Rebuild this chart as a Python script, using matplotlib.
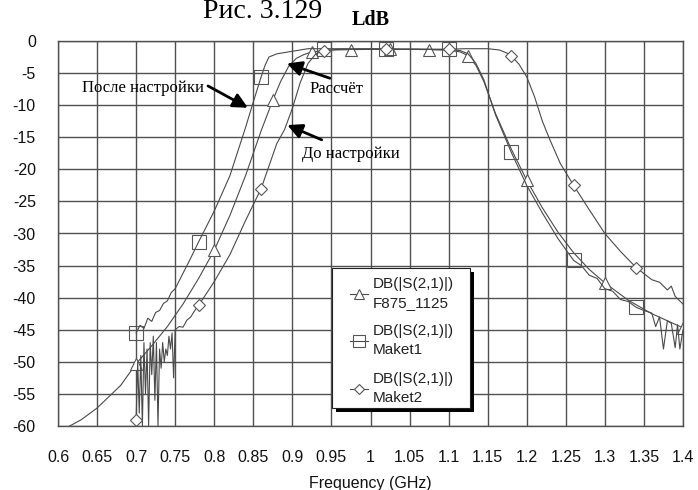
import matplotlib
matplotlib.use("Agg")
import matplotlib.pyplot as plt
from matplotlib.patches import Rectangle

# ---------------- data ----------------
# F875_1125 (simulation, triangles)
sim_f = [0.615, 0.63, 0.65, 0.68, 0.70, 0.72, 0.74, 0.76, 0.78, 0.80, 0.82, 0.84, 0.86,
         0.875, 0.885, 0.895, 0.905, 0.915, 0.925, 0.95, 0.975, 1.00, 1.025, 1.05, 1.075,
         1.10, 1.115, 1.125, 1.135, 1.145, 1.16, 1.18, 1.20, 1.22, 1.24, 1.26, 1.28, 1.30,
         1.33, 1.36, 1.40]
sim_db = [-60, -59.0, -57.2, -53.7, -50.3, -47.5, -44.5, -41.0, -37.0, -32.6, -27.2, -21.0, -14.0,
          -9.2, -6.3, -4.0, -2.7, -2.1, -1.7, -1.4, -1.35, -1.3, -1.3, -1.3, -1.35,
          -1.45, -1.7, -2.3, -3.8, -6.3, -11.3, -16.8, -21.7, -26.0, -29.8, -33.0, -35.6, -37.7,
          -40.4, -42.5, -44.7]
sim_marks = [0.70, 0.80, 0.875, 0.925, 0.975, 1.025, 1.075, 1.125, 1.20, 1.30, 1.40]

# Maket1 (after tuning, squares)
m1_f = [0.700, 0.705, 0.710, 0.715, 0.720, 0.725, 0.730, 0.735, 0.740, 0.745, 0.750, 0.760,
        0.770, 0.780, 0.800, 0.820, 0.840, 0.850, 0.860, 0.865, 0.870, 0.880, 0.890, 0.900,
        0.910, 0.920, 0.940, 0.960, 0.980, 1.000, 1.020, 1.040, 1.060, 1.080, 1.100, 1.115,
        1.125, 1.135, 1.145, 1.160, 1.180, 1.200, 1.220, 1.240, 1.260, 1.270, 1.280, 1.290,
        1.300, 1.310, 1.320, 1.330, 1.340, 1.350, 1.360, 1.365, 1.370, 1.375, 1.380, 1.385,
        1.390, 1.393, 1.396, 1.400]
m1_db = [-45.5, -44.3, -44.8, -43.2, -43.7, -42.3, -42.0, -40.9, -40.5, -39.2, -38.6, -36.2,
         -33.8, -31.3, -26.5, -21.0, -13.5, -9.5, -5.6, -3.8, -2.5, -2.0, -1.8, -1.6,
         -1.4, -1.2, -1.2, -1.2, -1.2, -1.2, -1.2, -1.25, -1.25, -1.3, -1.3, -1.5,
         -2.0, -3.5, -6.0, -11.5, -17.3, -22.5, -26.8, -30.8, -34.2, -35.0, -36.5, -37.0,
         -38.6, -39.0, -40.3, -40.6, -41.5, -42.0, -42.4, -44.5, -43.0, -48.0, -43.6, -44.0,
         -47.8, -44.2, -48.0, -45.0]
m1_marks = [0.70, 0.78, 0.86, 0.94, 1.02, 1.10, 1.18, 1.26, 1.34]

# Maket2 (before tuning, diamonds)
m2_f = [0.700, 0.702, 0.704, 0.706, 0.708, 0.710, 0.712, 0.714, 0.716, 0.718, 0.720, 0.722,
        0.724, 0.726, 0.728, 0.730, 0.732, 0.734, 0.736, 0.738, 0.740, 0.742, 0.744, 0.746,
        0.748, 0.750, 0.755, 0.760, 0.765, 0.770, 0.775, 0.780, 0.800, 0.820, 0.840, 0.860,
        0.870, 0.880, 0.890, 0.900, 0.910, 0.920, 0.930, 0.940, 0.960, 0.980, 1.000, 1.020,
        1.040, 1.060, 1.080, 1.100, 1.120, 1.150, 1.165, 1.175, 1.180, 1.190, 1.200, 1.210,
        1.220, 1.230, 1.243, 1.260, 1.280, 1.300, 1.320, 1.340, 1.360, 1.370, 1.380, 1.385,
        1.390, 1.400]
m2_db = [-59.0, -50.0, -58.0, -49.0, -60.0, -47.0, -55.0, -48.0, -60.0, -47.0, -52.0, -46.0,
         -56.0, -47.0, -60.0, -48.0, -51.0, -47.0, -50.0, -48.0, -49.0, -46.0, -48.0, -45.5,
         -52.5, -45.0, -44.5, -44.6, -43.5, -43.0, -42.0, -41.2, -37.5, -33.3, -28.0, -23.0,
         -19.5, -16.0, -13.8, -10.5, -6.5, -3.5, -2.0, -1.5, -1.3, -1.3, -1.3, -1.3,
         -1.3, -1.3, -1.3, -1.3, -1.2, -1.2, -1.4, -1.9, -2.3, -3.6, -5.6, -8.7,
         -12.5, -15.5, -19.1, -22.5, -26.3, -30.0, -32.8, -35.3, -37.2, -37.6, -38.8, -38.2,
         -39.8, -41.0]
m2_marks = [0.70, 0.78, 0.86, 0.94, 1.02, 1.10, 1.18, 1.26, 1.34]

x_ticks = [0.6, 0.65, 0.7, 0.75, 0.8, 0.85, 0.9, 0.95, 1.0, 1.05, 1.1, 1.15, 1.2, 1.25, 1.3, 1.35, 1.4]
x_labels = ["0.6", "0.65", "0.7", "0.75", "0.8", "0.85", "0.9", "0.95", "1", "1.05", "1.1",
            "1.15", "1.2", "1.25", "1.3", "1.35", "1.4"]
y_ticks = [0, -5, -10, -15, -20, -25, -30, -35, -40, -45, -50, -55, -60]

labels = ["DB(|S(2,1)|)\nF875_1125", "DB(|S(2,1)|)\nMaket1", "DB(|S(2,1)|)\nMaket2"]

# ---------------- figure ----------------
W, H = 698, 490
fig = plt.figure(figsize=(W / 100, H / 100), dpi=100)
L, R, T, B = 58, 683, 41, 426
ax = fig.add_axes([L / W, 1 - B / H, (R - L) / W, (B - T) / H])

line_c = "#4a4a4a"
def idx(fl, marks):
    return [min(range(len(fl)), key=lambda i: abs(fl[i] - m)) for m in marks]

h1, = ax.plot(sim_f, sim_db, color=line_c, lw=0.8, marker="^", markersize=9,
              markerfacecolor="white", markeredgecolor="#555555", markeredgewidth=0.8,
              markevery=idx(sim_f, sim_marks), label=labels[0])
h2, = ax.plot(m1_f, m1_db, color=line_c, lw=0.8, marker="s", markersize=10,
              markerfacecolor="none", markeredgecolor="#555555", markeredgewidth=0.8,
              markevery=idx(m1_f, m1_marks), label=labels[1])
h3, = ax.plot(m2_f, m2_db, color=line_c, lw=0.8, marker="D", markersize=6,
              markerfacecolor="white", markeredgecolor="#555555", markeredgewidth=0.8,
              markevery=idx(m2_f, m2_marks), label=labels[2])

ax.set_xlim(0.6, 1.4)
ax.set_ylim(-60, 0)
ax.set_xticks(x_ticks)
ax.set_xticklabels(x_labels)
ax.set_yticks(y_ticks)
ax.set_yticklabels([str(v) for v in y_ticks])
ax.tick_params(length=0, labelsize=11.5, labelcolor="#111111")
ax.tick_params(axis="x", pad=17)
ax.tick_params(axis="y", pad=16)
for lab in ax.get_xticklabels() + ax.get_yticklabels():
    lab.set_family("Liberation Sans")
ax.grid(True, color="#505050", lw=1.0)
for s in ax.spines.values():
    s.set_color("#505050")
    s.set_linewidth(1.0)
ax.set_xlabel("Frequency (GHz)", family="Liberation Sans", fontsize=11.5, labelpad=8, color="#111111")

# titles
fig.text(203 / W, 1 - 18 / H, "Рис. 3.129", family="Liberation Serif", fontsize=20,
         ha="left", va="baseline")
fig.text(371 / W, 1 - 20 / H, "LdB", family="Liberation Serif", fontsize=14.5,
         fontweight="bold", ha="center", va="center")

# annotations
ap = dict(arrowstyle="-|>", lw=2.0, color="black", mutation_scale=22, shrinkA=0, shrinkB=0)
ax.annotate("", xy=(0.843, -10.4), xytext=(0.792, -7.0), arrowprops=ap)
ax.text(0.787, -7.3, "После настройки", family="Liberation Serif", fontsize=12,
        ha="right", va="center")
ax.annotate("", xy=(0.893, -3.5), xytext=(0.948, -5.8), arrowprops=ap)
ax.text(0.9225, -7.5, "Рассчёт", family="Liberation Serif", fontsize=12,
        ha="left", va="center")
ax.annotate("", xy=(0.8935, -13.1), xytext=(0.9375, -15.4), arrowprops=ap)
ax.text(0.912, -17.6, "До настройки", family="Liberation Serif", fontsize=12,
        ha="left", va="center")

# legend box with black drop shadow (pixel geometry)
bx0, by0, bx1, by1 = 332, 268, 470, 408
sh = 4
fig.patches.append(Rectangle(((bx0 + sh) / W, 1 - (by1 + sh) / H), (bx1 - bx0) / W, (by1 - by0) / H,
                             transform=fig.transFigure, facecolor="black", edgecolor="none",
                             zorder=8))
fig.patches.append(Rectangle((bx0 / W, 1 - by1 / H), (bx1 - bx0) / W, (by1 - by0) / H,
                             transform=fig.transFigure, facecolor="white", edgecolor="#222222",
                             linewidth=0.8, zorder=9))
leg = fig.legend(handles=[h1, h2, h3], loc="upper left",
                 bbox_to_anchor=(350 / W, 1 - 277 / H), bbox_transform=fig.transFigure,
                 borderaxespad=0, borderpad=0,
                 prop={"family": "Liberation Sans", "size": 11}, frameon=False,
                 handlelength=1.15, handletextpad=0.35, labelspacing=0.95,
                 labelcolor="#222222", markerscale=0.8)
leg.set_zorder(10)
for t in leg.get_texts():
    t.set_linespacing(1.45)

fig.savefig("out.png", dpi=100)
